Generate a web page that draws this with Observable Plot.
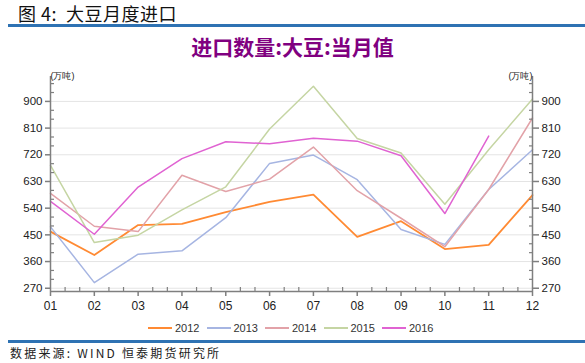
<!DOCTYPE html>
<html><head><meta charset="utf-8">
<script src="https://cdn.jsdelivr.net/npm/d3@7"></script>
<script src="https://cdn.jsdelivr.net/npm/@observablehq/plot@0.6"></script>
<style>
body{margin:0;background:#fff;}
#wrap{position:relative;width:585px;height:363px;overflow:hidden;font-family:"Noto Sans CJK SC",sans-serif;}
#chart{position:absolute;left:0;top:60px;}
#hdr{position:absolute;left:18px;top:2px;font-size:18px;letter-spacing:0.5px;color:#111;line-height:22px;white-space:pre;}
.bar{position:absolute;left:8px;right:0;height:3px;background:#2e72b3;}
#title{position:absolute;left:0;width:585px;top:33px;text-align:center;font-size:21px;font-weight:bold;color:#800080;line-height:26px;}
#legend{position:absolute;left:148px;top:321px;height:14px;display:flex;font-family:"Liberation Sans",sans-serif;font-size:11px;color:#333;}
.item{display:flex;align-items:center;width:58.5px;}
.sw{width:24px;height:2px;margin-right:3px;}
#src{position:absolute;left:10px;top:345px;font-size:12px;letter-spacing:2.2px;color:#222;line-height:16px;white-space:pre;}
</style></head><body>
<div id="wrap">
 <div id="chart"></div>
 <div id="hdr">图 4:  大豆月度进口</div>
 <div class="bar" style="top:24px"></div>
 <div id="title">进口数量:大豆:当月值</div>
 <div id="legend"></div>
 <div class="bar" style="top:340px"></div>
 <div id="src">数据来源: WIND 恒泰期货研究所</div>
</div>
<script>
const months = ["01","02","03","04","05","06","07","08","09","10","11","12"];
const years = ["2012","2013","2014","2015","2016"];
const v2012 = [461, 382, 483, 487, 527, 561, 586, 443, 496, 402, 416, 584];
const v2013 = [477, 289, 385, 396, 508, 691, 719, 636, 468, 418, 603, 737];
const v2014 = [590, 479, 461, 651, 596, 638, 746, 599, 506, 410, 603, 844];
const v2015 = [684, 424, 449, 534, 612, 807, 951, 775, 726, 553, 737, 908];
const v2016 = [563, 452, 611, 707, 764, 757, 776, 766, 717, 522, 783];
const colors = ["#ff8a33", "#a6b5e2", "#e2a2a8", "#c5d5a3", "#e063d2"];
const widths = [1.8, 1.5, 1.5, 1.5, 1.5];
const yTicks = [270, 360, 450, 540, 630, 720, 810, 900];
const yMinor = [300, 330, 390, 420, 480, 510, 570, 600, 660, 690, 750, 780, 840, 870, 930, 960];
const yDomain = [259, 984];
const unit = "(万吨)";

const series = [v2012, v2013, v2014, v2015, v2016];
const rows = years.map((yr, i) => series[i].map((v, j) => ({year: yr, m: j + 1, v})));
const xMinor = d3.range(1, 12).flatMap(k => [k + 1/3, k + 2/3]);
const axisColor = "#7f7f7f";
const blank = () => "";

const chart = Plot.plot({
  width: 585,
  height: 262,
  marginLeft: 50,
  marginRight: 53,
  marginTop: 16,
  marginBottom: 31,
  style: {fontFamily: "Liberation Sans, sans-serif", fontSize: "11px", color: "#222", background: "transparent"},
  x: {domain: [1, 12]},
  y: {domain: yDomain},
  marks: [
    Plot.gridY(yTicks, {stroke: "#e4e4e4", strokeOpacity: 1, strokeWidth: 1}),
    ...rows.map((r, i) => Plot.line(r, {x: "m", y: "v", stroke: colors[i], strokeWidth: widths[i]})),
    Plot.ruleX([1, 12], {stroke: axisColor, strokeWidth: 1.5}),
    Plot.ruleY([yDomain[0]], {stroke: axisColor, strokeWidth: 1.5}),
    Plot.axisY({anchor: "left", ticks: yTicks, tickSize: 5, tickPadding: 3, stroke: axisColor, strokeWidth: 1.5, fontSize: 11.5, label: null}),
    Plot.axisY({anchor: "right", ticks: yTicks, tickSize: 6, tickPadding: 3, stroke: axisColor, strokeWidth: 1.5, fontSize: 11.5, label: null}),
    Plot.axisY({anchor: "left", ticks: yMinor, tickSize: 4, dx: 4, tickFormat: blank, stroke: axisColor, strokeWidth: 1.2, label: null}),
    Plot.axisY({anchor: "right", ticks: yMinor, tickSize: 4, dx: -4, tickFormat: blank, stroke: axisColor, strokeWidth: 1.2, label: null}),
    Plot.axisX({anchor: "bottom", ticks: d3.range(1, 13), tickFormat: d => months[d - 1], tickSize: 5, tickPadding: 5, stroke: axisColor, strokeWidth: 1.5, fontSize: 12, label: null}),
    Plot.axisX({anchor: "bottom", ticks: xMinor, tickSize: 4, dy: -4, tickFormat: blank, stroke: axisColor, strokeWidth: 1.2, label: null}),
    Plot.text([unit], {frameAnchor: "top-left", dy: -4, fontSize: 9, textAnchor: "start", fill: "#222"}),
    Plot.text([unit], {frameAnchor: "top-right", dy: -4, fontSize: 9, textAnchor: "end", fill: "#222"})
  ]
});
document.getElementById("chart").appendChild(chart);

const lg = document.getElementById("legend");
years.forEach((yr, i) => {
  const it = document.createElement("div");
  it.className = "item";
  it.innerHTML = `<span class="sw" style="background:${colors[i]}"></span><span>${yr}</span>`;
  lg.appendChild(it);
});
</script>
</body></html>
